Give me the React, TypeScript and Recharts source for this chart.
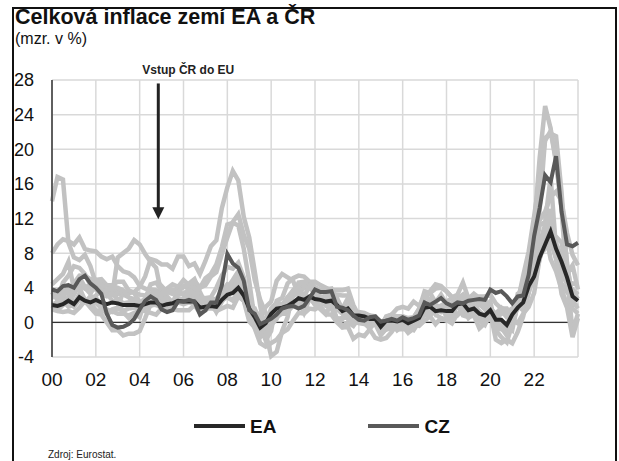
import { CartesianGrid, Line, LineChart, ReferenceLine, XAxis, YAxis } from 'recharts'

// čtvrtletní body (leden, duben, červenec, říjen), 2000 až leden 2024
const quarters = Array.from({ length: 97 }, (_, i) => 2000 + i / 4)
const yearTicks = [2000, 2002, 2004, 2006, 2008, 2010, 2012, 2014, 2016, 2018, 2020, 2022]
const valueTicks = [-4, 0, 4, 8, 12, 16, 20, 24, 28]

const ea = [
  2.0, 1.9, 2.1, 2.5, 2.1, 2.9, 2.5, 2.3, 2.6, 2.3, 2.1, 2.3, 2.2, 2.0, 2.0, 2.0,
  1.9, 2.1, 2.3, 2.3, 1.9, 2.1, 2.2, 2.5, 2.4, 2.4, 2.4, 1.7, 1.8, 1.9, 1.8, 2.6,
  3.2, 3.4, 4.0, 3.1, 1.6, 0.6, -0.6, -0.1, 1.0, 1.6, 1.7, 1.9, 2.3, 2.8, 2.6, 3.0,
  2.7, 2.6, 2.4, 2.5, 2.0, 1.3, 1.6, 0.8, 0.8, 0.7, 0.4, 0.4, -0.5, 0.2, 0.2, 0.1,
  0.3, -0.1, 0.2, 0.5, 1.7, 1.8, 1.3, 1.4, 1.3, 1.3, 2.1, 2.2, 1.4, 1.6, 1.0, 0.8,
  1.4, 0.3, 0.3, -0.3, 0.9, 1.7, 2.3, 4.2, 5.3, 7.5, 9.0, 10.5, 8.5, 7.0, 5.2, 3.0,
  2.5
]
const cz = [
  3.8, 3.6, 4.2, 4.3, 4.0, 5.0, 5.4, 4.5, 4.0, 3.3, 1.0, -0.3, -0.6, -0.5, -0.2, 0.4,
  1.5, 2.5, 3.0, 2.6, 1.5, 1.2, 1.4, 2.4, 2.4, 2.6, 2.4, 0.9, 1.4, 2.3, 2.3, 4.3,
  7.9, 6.8, 6.3, 4.8, 1.4, 1.0, -0.2, 0.1, 0.4, 0.9, 1.6, 1.8, 1.9, 1.6, 1.9, 2.8,
  3.8, 3.5, 3.5, 3.6, 1.8, 1.7, 1.4, 0.8, 0.3, 0.2, 0.6, 0.7, 0.1, 0.2, 0.4, 0.2,
  0.6, 0.3, 0.5, 0.8, 2.3, 2.0, 2.4, 2.8, 2.2, 1.9, 2.3, 2.2, 2.5, 2.6, 2.7, 2.6,
  3.8, 3.4, 3.6, 3.0, 2.2, 3.0, 3.1, 5.5, 10.0, 13.2, 17.0, 16.2, 19.2, 12.8, 9.0, 8.8,
  9.2
]

// ostatní země eurozóny
const sk = [
  14.0, 16.8, 16.5, 9.2, 7.5, 7.2, 7.8, 6.5, 4.5, 3.3, 3.0, 3.2, 7.5, 8.0, 8.5, 9.5,
  9.0, 7.9, 7.0, 6.3, 3.2, 2.5, 2.3, 3.6, 4.1, 4.5, 5.0, 3.5, 2.2, 2.4, 1.2, 2.4,
  3.2, 4.0, 4.4, 4.2, 2.7, 1.4, 0.6, 0.0, -0.2, 0.6, 1.0, 1.0, 3.2, 4.1, 4.1, 4.6,
  4.1, 3.7, 3.8, 3.9, 2.4, 1.7, 1.6, 0.5, -0.1, -0.2, -0.2, -0.1, -0.5, -0.1, -0.2, -0.4,
  -0.6, -0.6, -0.9, 0.1, 0.9, 0.8, 1.5, 1.9, 2.4, 2.8, 2.8, 2.2, 2.3, 2.7, 3.0, 3.0,
  3.2, 2.2, 1.6, 1.6, 0.7, 1.9, 3.3, 4.4, 8.4, 11.8, 12.8, 14.5, 15.1, 14.0, 10.3, 7.8,
  6.6
]
const si = [
  8.0, 9.0, 9.6, 9.4, 9.0, 9.8, 8.5, 8.3, 8.2, 7.6, 7.3, 7.6, 6.5, 5.9, 5.7, 5.2,
  4.2, 3.9, 3.8, 3.7, 2.8, 2.3, 2.1, 2.8, 2.3, 3.0, 2.9, 1.9, 2.8, 2.9, 4.0, 5.4,
  6.4, 6.2, 6.9, 5.2, 1.8, 1.1, -0.6, 0.0, 1.6, 2.3, 2.1, 1.8, 2.0, 2.4, 1.1, 2.7,
  2.4, 2.9, 2.9, 3.4, 2.5, 1.6, 2.8, 1.1, 1.0, 1.0, 0.3, 0.0, -0.5, -0.8, -0.7, -0.8,
  -0.8, -0.7, 0.2, 0.7, 1.6, 1.7, 1.6, 1.2, 1.7, 2.0, 2.1, 2.3, 1.4, 1.8, 2.1, 1.5,
  2.4, -0.6, -0.8, -0.3, -0.9, 2.2, 2.2, 3.4, 6.3, 7.4, 10.9, 10.3, 9.9, 9.2, 5.6, 6.6,
  3.8
]
const lv = [
  3.0, 3.2, 2.5, 1.8, 2.0, 2.6, 2.3, 3.0, 2.9, 1.9, 1.1, 1.5, 1.7, 3.6, 3.5, 3.5,
  4.1, 5.3, 7.3, 7.1, 6.7, 6.7, 6.2, 7.6, 7.6, 6.5, 6.8, 5.6, 7.1, 8.8, 9.5, 13.2,
  15.6, 17.5, 16.4, 12.2, 9.8, 5.9, 1.9, -1.2, -3.9, -3.4, -1.0, 0.6, 3.5, 4.4, 4.6, 4.6,
  3.4, 2.9, 1.9, 1.6, 0.4, -0.4, 0.0, -0.4, 0.5, 0.8, 0.8, 0.2, -0.3, 0.4, 0.0, -0.2,
  -0.2, -0.8, -0.1, 0.9, 2.8, 3.4, 2.3, 3.2, 2.1, 2.0, 2.8, 3.1, 2.7, 3.3, 2.8, 2.3,
  1.9, 0.2, -0.4, -0.6, -0.5, 2.3, 3.5, 6.0, 7.5, 13.0, 21.3, 21.8, 21.5, 15.0, 6.3, 1.6,
  1.0
]
const ee = [
  3.5, 2.6, 4.6, 5.4, 6.5, 6.3, 5.6, 4.3, 4.0, 4.4, 3.4, 2.5, 2.4, 1.2, 0.5, 1.0,
  0.6, 2.7, 4.4, 4.6, 3.7, 3.9, 4.4, 4.1, 4.9, 4.3, 4.8, 4.0, 5.1, 5.6, 6.7, 8.7,
  11.3, 11.5, 11.2, 8.5, 4.7, 0.3, -0.4, -2.1, -1.0, 2.5, 2.8, 4.5, 5.1, 5.4, 5.3, 4.7,
  4.7, 4.3, 4.0, 3.7, 3.7, 3.7, 3.9, 2.0, 0.8, 0.8, -0.2, 0.3, -0.6, 0.0, 0.1, 0.0,
  0.1, -0.1, 0.6, 1.5, 3.6, 3.4, 3.9, 4.0, 3.6, 2.9, 3.2, 4.6, 2.8, 3.1, 2.0, 1.8,
  1.8, -0.9, -1.7, -2.3, -0.2, 2.7, 4.9, 6.8, 11.0, 19.0, 25.0, 22.4, 18.6, 13.0, 4.4, 4.5,
  4.3
]
const lt = [
  1.5, 1.3, 1.2, 1.3, 1.1, 1.7, 2.5, 1.7, 1.0, 0.9, 0.0, -0.9, -0.9, -1.5, -1.3, -1.3,
  -1.0, 0.5, 2.1, 2.8, 2.7, 3.0, 2.3, 3.2, 3.3, 3.8, 4.3, 4.0, 4.3, 5.3, 5.8, 7.9,
  9.8, 11.6, 12.5, 10.1, 8.5, 4.9, 2.6, 1.1, -0.3, 0.4, 1.9, 2.9, 3.1, 4.6, 4.7, 4.6,
  3.7, 2.9, 3.1, 3.2, 2.7, 1.4, 0.4, 0.6, 0.3, 0.3, 0.5, 0.0, -1.3, -0.8, -0.3, -0.6,
  0.5, 0.3, 0.5, 1.6, 3.1, 3.6, 4.4, 4.2, 3.6, 2.9, 2.2, 2.4, 1.8, 2.7, 2.4, 1.9,
  1.9, 0.4, 1.0, 1.1, 0.2, 2.4, 5.4, 8.2, 12.3, 16.6, 21.0, 22.1, 18.5, 13.3, 6.9, 2.5,
  1.6
]
const gr = [
  2.0, 2.4, 2.9, 4.1, 3.2, 4.3, 4.0, 3.3, 4.4, 3.6, 3.7, 3.8, 3.3, 3.3, 3.4, 3.5,
  3.2, 3.1, 2.9, 3.1, 4.2, 3.5, 3.8, 3.7, 3.2, 3.3, 3.5, 3.1, 2.7, 2.6, 2.7, 3.5,
  3.9, 4.4, 4.9, 3.6, 1.9, 1.1, 0.7, 1.8, 2.4, 4.8, 5.6, 5.2, 4.8, 3.1, 2.1, 2.9,
  2.1, 1.5, 0.9, 0.9, 0.0, -0.6, -0.5, -1.9, -1.4, -1.6, -0.8, -1.8, -2.0, -1.8, -1.1, -0.1,
  -0.1, -0.4, 0.2, 0.6, 1.5, 1.6, 0.9, 0.5, 0.2, 0.5, 0.8, 1.8, 0.5, 1.1, 0.2, -0.3,
  1.1, -2.0, -2.4, -2.0, -2.4, -1.1, 0.7, 3.4, 5.5, 9.1, 11.3, 9.5, 7.3, 4.5, 3.5, 3.8,
  3.2
]
const ie = [
  4.4, 5.0, 5.6, 7.0, 3.9, 4.2, 3.9, 4.5, 4.9, 5.0, 4.3, 4.3, 4.7, 4.7, 3.7, 3.4,
  2.3, 2.0, 2.2, 2.5, 1.9, 1.9, 2.3, 2.5, 2.6, 3.5, 3.0, 2.4, 2.6, 2.7, 2.7, 2.9,
  3.1, 3.7, 3.6, 2.6, 1.1, -0.7, -2.4, -2.8, -2.4, -2.0, -1.2, -0.8, 0.2, 1.1, 1.0, 1.6,
  1.5, 1.9, 1.0, 2.1, 0.4, 0.5, 0.6, -0.1, 0.3, 0.4, 0.5, 0.2, -0.4, -0.4, 0.2, -0.1,
  -0.2, -0.1, -0.3, -0.4, 0.2, 0.7, -0.2, 0.5, 0.3, -0.1, 1.0, 1.1, 0.8, 1.7, 0.5, 0.7,
  1.1, -0.3, -0.6, -1.5, -0.1, 1.9, 2.2, 5.1, 5.0, 7.3, 9.6, 9.4, 7.5, 5.4, 4.6, 3.6,
  2.7
]
const nl = [
  1.7, 1.7, 2.4, 2.9, 4.5, 5.4, 5.4, 5.0, 4.9, 4.4, 3.6, 3.3, 2.7, 2.2, 2.3, 1.9,
  1.4, 1.3, 1.1, 0.9, 1.6, 1.6, 1.5, 1.4, 1.4, 1.4, 2.0, 1.1, 1.4, 1.9, 1.3, 1.6,
  1.9, 1.7, 3.0, 2.5, 1.7, 1.6, -0.1, 0.5, 0.7, 0.9, 1.7, 1.3, 1.9, 1.8, 2.4, 2.8,
  2.9, 2.7, 2.3, 3.3, 3.2, 3.1, 3.1, 1.3, 0.8, 0.7, 0.4, 0.3, -0.4, 0.6, 0.9, 0.5,
  0.4, -0.2, -0.3, 0.6, 1.7, 0.9, 1.5, 1.4, 1.3, 1.0, 2.0, 2.2, 2.1, 3.0, 2.6, 2.8,
  1.6, 1.0, 1.7, 1.2, 1.6, 1.9, 1.4, 3.7, 7.6, 11.2, 11.6, 16.8, 8.4, 5.2, 5.3, -1.0,
  1.0
]
const es = [
  2.9, 3.0, 3.6, 4.0, 3.8, 4.0, 2.6, 2.5, 3.1, 3.7, 3.5, 4.0, 3.8, 3.2, 2.9, 2.7,
  2.3, 2.7, 3.3, 3.6, 3.1, 3.5, 3.3, 3.5, 4.2, 3.9, 4.0, 2.6, 2.4, 2.5, 2.3, 3.6,
  4.4, 4.2, 5.3, 3.6, 0.8, -0.2, -1.3, -0.6, 1.1, 1.6, 1.9, 2.3, 3.0, 3.5, 3.0, 3.0,
  2.0, 2.0, 2.2, 3.5, 2.8, 1.5, 1.9, -0.1, 0.3, 0.4, -0.4, -0.2, -1.5, -0.7, 0.0, -0.9,
  -0.4, -1.2, -0.7, 0.5, 2.9, 2.6, 1.7, 1.7, 0.7, 1.1, 2.3, 2.3, 1.0, 1.6, 0.6, 0.2,
  1.1, -0.7, -0.7, -1.0, -0.4, 2.0, 2.9, 5.4, 6.2, 8.3, 10.7, 7.3, 5.9, 3.8, 2.1, 3.5,
  3.3
]
const de = [
  1.9, 1.4, 2.0, 2.4, 1.8, 2.6, 2.4, 2.0, 2.3, 1.6, 1.0, 1.3, 1.0, 1.0, 0.8, 1.1,
  1.2, 1.7, 1.9, 2.1, 1.6, 1.4, 1.9, 2.3, 2.1, 2.3, 2.1, 1.1, 1.8, 2.0, 2.0, 2.7,
  2.9, 2.6, 3.5, 2.5, 0.9, 0.8, -0.7, -0.1, 0.8, 1.0, 1.2, 1.3, 2.0, 2.7, 2.6, 2.9,
  2.3, 2.2, 2.1, 2.1, 1.9, 1.1, 1.9, 1.2, 1.2, 1.1, 0.8, 0.7, -0.5, 0.5, 0.1, 0.2,
  0.4, -0.3, 0.4, 0.7, 1.9, 2.0, 1.5, 1.5, 1.4, 2.2, 2.1, 2.6, 1.7, 2.1, 1.1, 0.9,
  1.6, 0.8, 0.0, -0.5, 1.6, 2.1, 3.1, 4.6, 5.1, 7.8, 8.5, 11.6, 9.2, 7.6, 6.5, 3.0,
  3.1
]
const be = [
  1.9, 2.2, 3.0, 3.7, 2.1, 3.3, 2.3, 2.2, 1.4, 1.3, 1.5, 1.2, 1.6, 1.3, 1.6, 1.7,
  1.4, 1.8, 2.1, 2.0, 2.4, 2.3, 2.5, 2.6, 2.4, 2.5, 2.3, 1.7, 1.6, 1.6, 1.6, 2.8,
  4.0, 4.9, 5.9, 4.8, 2.1, 0.4, -1.7, -0.8, 0.8, 2.0, 2.0, 2.9, 3.7, 3.3, 4.0, 4.0,
  3.4, 3.0, 2.5, 2.9, 1.5, 1.0, 1.2, 0.8, 1.1, 0.9, 0.6, 0.4, -0.5, 0.7, 0.9, 1.6,
  1.8, 1.6, 2.4, 1.9, 3.1, 2.5, 1.9, 1.9, 1.6, 2.0, 2.7, 3.2, 2.2, 1.9, 1.3, 0.7,
  1.4, 0.0, 1.4, 0.6, 0.6, 3.3, 3.6, 5.4, 8.5, 9.3, 10.4, 13.1, 7.4, 3.3, 1.7, -1.7,
  0.5
]
const pt = [
  1.9, 2.0, 3.3, 3.9, 4.4, 5.2, 4.1, 4.0, 3.8, 3.5, 3.7, 4.2, 4.0, 3.7, 2.9, 2.3,
  2.3, 2.4, 2.6, 2.4, 2.0, 2.3, 2.4, 2.6, 2.7, 3.7, 3.4, 2.6, 2.6, 2.8, 2.3, 2.6,
  2.9, 2.5, 3.1, 2.5, 0.1, -0.6, -1.4, -1.7, 0.2, 0.6, 1.9, 2.2, 3.6, 4.0, 3.0, 4.2,
  3.4, 2.9, 2.8, 2.1, 0.4, 0.4, 0.8, -0.2, 0.1, -0.1, -0.7, 0.0, -0.1, 0.4, 0.8, 0.7,
  0.7, 0.5, 0.6, 0.9, 1.3, 2.4, 1.0, 1.8, 1.1, 0.3, 2.2, 0.8, 0.6, 0.8, -0.7, -0.1,
  0.8, -0.1, -0.4, -0.6, 0.2, -0.1, 1.0, 1.8, 3.4, 7.4, 9.4, 10.6, 8.6, 6.9, 4.3, 2.1,
  1.9
]

const countries: Record<string, number[]> = { sk, si, lv, ee, lt, gr, ie, nl, es, de, be, pt }
const countryKeys = Object.keys(countries)

const data = quarters.map((t, i) => {
  const row: Record<string, number> = { t, ea: ea[i], cz: cz[i] }
  countryKeys.forEach((key) => {
    row[key] = countries[key][i]
  })
  return row
})

const font = '"Liberation Sans", Arial, sans-serif'
const eaColor = '#272727'
const czColor = '#595959'
const countryColor = '#c2c2c2'

const ArrowShape = (props: any) => {
  const { x1, y1, x2, y2 } = props
  return (
    <g>
      <line x1={x1} y1={y1} x2={x2} y2={y2 - 10} stroke="#222" strokeWidth={3} />
      <polygon points={`${x2 - 6},${y2 - 12} ${x2 + 6},${y2 - 12} ${x2},${y2}`} fill="#222" />
      <text
        x={x1 + 30}
        y={y1 - 9}
        textAnchor="middle"
        fontSize={12}
        fontWeight="bold"
        fontFamily={font}
        fill="#222"
      >
        Vstup ČR do EU
      </text>
    </g>
  )
}

const legendItems = [
  { name: 'EA', color: eaColor },
  { name: 'CZ', color: czColor }
]

export default function App() {
  return (
    <div
      style={{
        position: 'absolute',
        left: 0,
        top: 0,
        width: 619,
        height: 461,
        overflow: 'hidden',
        background: '#fff',
        fontFamily: font
      }}
    >
      <LineChart width={619} height={461} data={data} margin={{ top: 80, right: 41, bottom: 74, left: 12 }}>
        <CartesianGrid stroke="#d9d9d9" strokeWidth={1.5} />
        <XAxis
          dataKey="t"
          type="number"
          domain={[2000, 2024]}
          ticks={yearTicks}
          tickFormatter={(v: number) => String(v).slice(2)}
          axisLine={false}
          tickLine={false}
          tickSize={0}
          tickMargin={16}
          height={30}
          tick={{ fill: '#111', fontSize: 19, fontFamily: font }}
        />
        <YAxis
          domain={[-4, 28]}
          ticks={valueTicks}
          width={40}
          axisLine={{ stroke: '#333', strokeWidth: 1.5 }}
          tickLine={false}
          tickSize={0}
          tickMargin={18}
          tick={{ fill: '#111', fontSize: 18, fontFamily: font }}
        />
        <ReferenceLine y={0} stroke="#333" strokeWidth={1.3} />
        {countryKeys.map((key) => (
          <Line
            key={key}
            dataKey={key}
            stroke={countryColor}
            strokeWidth={4.5}
            dot={false}
            isAnimationActive={false}
          />
        ))}
        <Line dataKey="ea" name="EA" stroke={eaColor} strokeWidth={4} dot={false} isAnimationActive={false} />
        <Line dataKey="cz" name="CZ" stroke={czColor} strokeWidth={4} dot={false} isAnimationActive={false} />
        <ReferenceLine
          segment={[
            { x: 2004.85, y: 27.6 },
            { x: 2004.85, y: 11.9 }
          ]}
          shape={ArrowShape}
          ifOverflow="visible"
        />
      </LineChart>

      <div style={{ position: 'absolute', left: 194, top: 415, display: 'flex', height: 22 }}>
        {legendItems.map((item) => (
          <div key={item.name} style={{ display: 'flex', alignItems: 'center', marginRight: 92 }}>
            <div style={{ width: 51, height: 4, background: item.color, marginRight: 5 }} />
            <span style={{ fontSize: 19, fontWeight: 'bold', color: '#111', lineHeight: 1 }}>{item.name}</span>
          </div>
        ))}
      </div>

      <div style={{ position: 'absolute', left: 12, top: 7, width: 601, height: 470, border: '2px solid #111' }} />
      <div
        style={{ position: 'absolute', left: 15, top: 7, fontSize: 21.5, fontWeight: 'bold', lineHeight: 1, color: '#111' }}
      >
        Celková inflace zemí EA a ČR
      </div>
      <div style={{ position: 'absolute', left: 15, top: 30.5, fontSize: 16, lineHeight: 1, color: '#111' }}>
        (mzr. v %)
      </div>
      <div style={{ position: 'absolute', left: 48, top: 449.5, fontSize: 10, lineHeight: 1, color: '#222' }}>
        Zdroj: Eurostat.
      </div>
    </div>
  )
}
